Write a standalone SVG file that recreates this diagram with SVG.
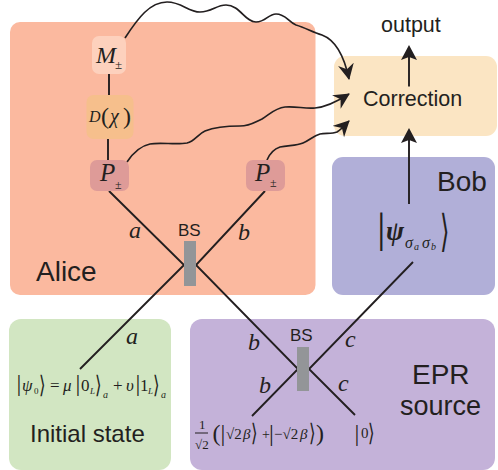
<svg xmlns="http://www.w3.org/2000/svg" width="498" height="470" viewBox="0 0 498 470">
<style>
.s{font-family:"Liberation Sans",Arial,sans-serif;fill:#231f20}
.m{font-family:"Liberation Serif","Times New Roman",serif;font-style:italic;fill:#231f20}
.r{font-family:"Liberation Serif","Times New Roman",serif;fill:#231f20}
.k{font-family:"DejaVu Sans",sans-serif;fill:#231f20}
.l{fill:none;stroke:#231f20;stroke-width:1.9}
.w{fill:none;stroke:#231f20;stroke-width:1.7;marker-end:url(#a)}
</style>
<defs>
<marker id="a" markerUnits="userSpaceOnUse" markerWidth="18" markerHeight="18" refX="15" refY="8" orient="auto">
<path d="M0,0L16,8L0,16L5,8Z" fill="#231f20"/>
</marker>
</defs>
<g id="alice"><rect x="10" y="22" width="305.500" height="273" rx="10" fill="#fbb99f"/><text class="s" x="36" y="281" font-size="28">Alice</text></g>
<g id="correction"><rect x="334" y="56" width="163" height="80" rx="11" fill="#fbe5c3"/><text class="s" x="363" y="106" font-size="21.500">Correction</text></g>
<g id="bob"><rect x="332" y="157" width="163" height="138" rx="11" fill="#b1afd8"/><text class="s" x="437" y="191" font-size="28">Bob</text></g>
<g id="initial"><rect x="9" y="319" width="162" height="151" rx="12" fill="#d2e6c2"/><text class="s" x="30" y="442" font-size="24">Initial state</text></g>
<g id="epr"><rect x="190" y="319" width="305" height="151" rx="12" fill="#c4b2d9"/><text class="s" x="412" y="384" font-size="28">EPR</text><text class="s" x="400" y="415" font-size="27">source</text></g>
<g id="connectors">
<path class="l" d="M109,74V95M108,139V160"/>
<path class="l" d="M109,191L184,265L80,369M265,191L196,265L298,369L252,416M413,262L309,369L355,415"/>
<path class="l" d="M409,204V140M409,86.500V56"/>
<path d="M409,45L417,60L409,57L401,60Z" fill="#231f20"/>
<path d="M409,128L417,143L409,140L401,143Z" fill="#231f20"/>
<path class="w" d="M125,38C138,18 150,2 167,2C182,2 188,12 200,12C212,12 216,5 226,5C240,5 245,22 256,22C266,22 268,14 276,14C286,14 288,22 296,25C306,28 312,32 322,35C338,41 345,60 349,79"/>
<path class="w" d="M127,162C133,153 140,146 150,144C160,142 176,145 187,143C195,141 198,134 205,131C215,127 225,126 240,126C250,126 255,122 262,119C270,114 275,108 285,107C296,106 305,109 315,108C327,107 338,101 349,94"/>
<path class="w" d="M267,160C270,153 274,149 280,147C288,145 296,146 303,143C310,140 313,136 320,134C326,133 332,134 337,132C342,129 345,125 349,121"/>
</g>
<g id="m"><rect x="92" y="36" width="34" height="38" rx="7" fill="#fdd1bd"/><text class="m" x="96" y="63" font-size="24">M</text><text class="r" x="115" y="69" font-size="13">±</text></g>
<g id="d"><rect x="86.500" y="95" width="47" height="44" rx="7" fill="#f6bf8c"/><text class="m" x="89" y="122" font-size="16">D</text><text class="r" x="101" y="124" font-size="24">(</text><text class="m" x="110" y="123" font-size="20">χ</text><text class="r" x="123" y="124" font-size="24">)</text></g>
<g id="p1"><rect x="90" y="160" width="39" height="31" rx="7" fill="#de9b98"/><text class="m" x="100" y="181" font-size="25">P</text><text class="r" x="115" y="189" font-size="12">±</text></g>
<g id="p2"><rect x="246" y="160" width="39" height="31" rx="7" fill="#de9b98"/><text class="m" x="255" y="181" font-size="25">P</text><text class="r" x="270" y="187" font-size="12">±</text></g>
<g id="bs1"><rect x="184" y="241" width="12" height="45" fill="#939598"/><text class="s" x="178" y="236" font-size="17">BS</text></g>
<g id="bs2"><rect x="297" y="347" width="12" height="44" fill="#939598"/><text class="s" x="290" y="341" font-size="17">BS</text></g>
<g id="labels">
<text class="m" x="129" y="238" font-size="24">a</text>
<text class="m" x="238" y="240" font-size="24">b</text>
<text class="m" x="126" y="344" font-size="24">a</text>
<text class="m" x="248" y="350" font-size="24">b</text>
<text class="m" x="345" y="347" font-size="24">c</text>
<text class="m" x="259" y="393" font-size="24">b</text>
<text class="m" x="338" y="391" font-size="24">c</text>
</g>
<g id="psi-ket">
<text class="r" x="377" y="242" font-size="43">|</text>
<text class="m" x="386" y="240" font-size="27" font-weight="bold">ψ</text>
<text class="m" x="405" y="248" font-size="16">σ</text><text class="m" x="414" y="250" font-size="10">a</text><text class="m" x="422" y="248" font-size="16">σ</text><text class="m" x="431" y="250" font-size="10">b</text>
<text class="k" transform="translate(440,246) scale(.55,1)" font-size="44">⟩</text>
</g>
<g id="initial-eq">
<text class="r" x="16.500" y="391" font-size="24">|</text>
<text class="m" x="22" y="391" font-size="17">ψ</text><text class="r" x="34" y="394" font-size="9">0</text>
<text class="k" transform="translate(39,393) scale(.7,1)" font-size="24">⟩</text>
<text class="r" x="50" y="391" font-size="17">=</text>
<text class="m" x="63" y="391" font-size="17">μ</text>
<text class="r" x="75.500" y="391" font-size="24">|</text>
<text class="r" x="81" y="391" font-size="17">0</text><text class="m" x="90" y="394" font-size="9">L</text>
<text class="k" transform="translate(95,393) scale(.7,1)" font-size="24">⟩</text><text class="m" x="103" y="398" font-size="10">a</text>
<text class="r" x="113" y="391" font-size="17">+</text>
<text class="m" x="126" y="391" font-size="17">υ</text>
<text class="r" x="135.500" y="391" font-size="24">|</text>
<text class="r" x="140" y="391" font-size="17">1</text><text class="m" x="148" y="394" font-size="9">L</text>
<text class="k" transform="translate(153,393) scale(.7,1)" font-size="24">⟩</text><text class="m" x="161" y="398" font-size="10">a</text>
</g>
<g id="coherent-eq">
<text class="r" x="199" y="429" font-size="13">1</text>
<path d="M195,433H208" stroke="#231f20" fill="none"/>
<text class="r" x="195" y="449" font-size="13">√2</text>
<text class="r" x="212.500" y="441" font-size="24">(</text>
<text class="r" x="220.500" y="441" font-size="24">|</text>
<text class="r" x="226" y="439" font-size="15">√2</text><text class="m" x="243" y="439" font-size="15">β</text>
<text class="k" transform="translate(251,441) scale(.7,1)" font-size="24">⟩</text>
<text class="r" x="262" y="439" font-size="14">+</text>
<text class="r" x="269" y="441" font-size="24">|</text>
<text class="r" x="274" y="439" font-size="15">−√2</text><text class="m" x="300" y="439" font-size="15">β</text>
<text class="k" transform="translate(309,441) scale(.7,1)" font-size="24">⟩</text>
<text class="r" x="316" y="441" font-size="24">)</text>
<text class="r" x="354.500" y="441" font-size="24">|</text>
<text class="r" x="361" y="438" font-size="15">0</text>
<text class="k" transform="translate(368,441) scale(.7,1)" font-size="24">⟩</text>
</g>
<g id="output"><text class="s" x="381" y="32" font-size="21.500">output</text></g>
</svg>
